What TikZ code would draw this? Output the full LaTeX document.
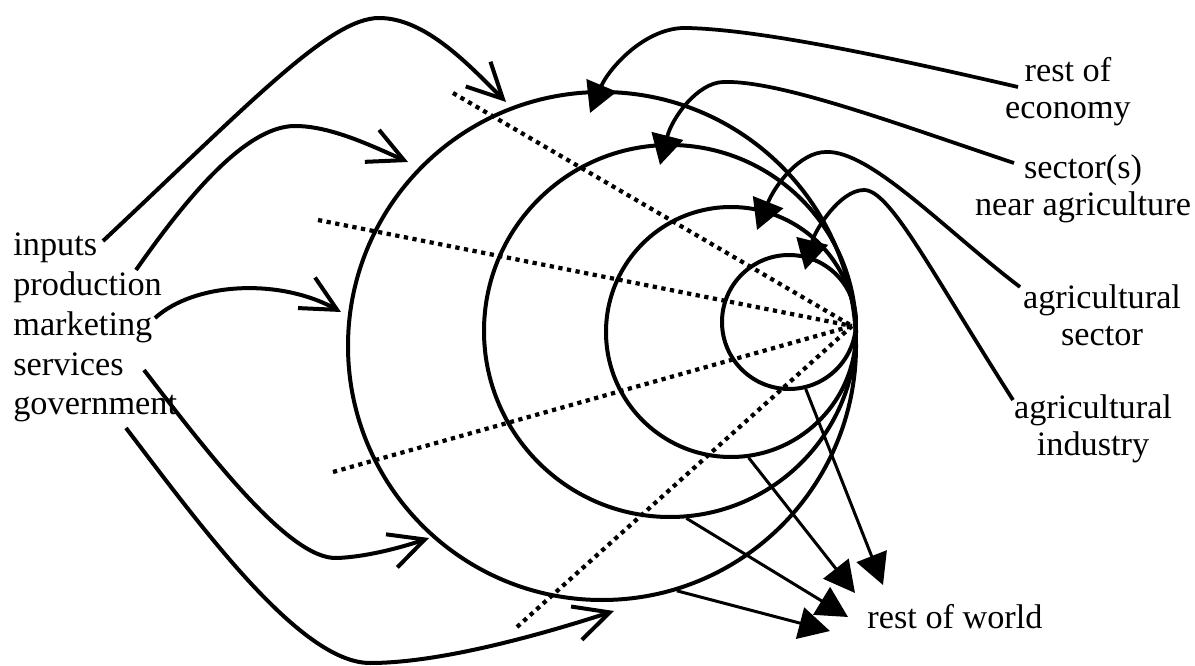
\documentclass[tikz,border=0pt]{standalone}
\usepackage{fontspec}
\setmainfont{Liberation Serif}
\usetikzlibrary{arrows.meta}
\begin{document}
\begin{tikzpicture}[
  ring/.style={draw,circle,line width=0.08cm,inner sep=0pt},
  dotline/.style={line width=0.085cm,dash pattern=on 0.085cm off 0.09cm},
  inarrow/.style={line width=0.08cm,-{Straight Barb[length=0.7cm,width=0.7cm]}},
  outarrow/.style={line width=0.075cm,-{Triangle[length=0.6cm,width=0.64cm]}},
  worldarrow/.style={line width=0.06cm,-{Triangle[length=0.62cm,width=0.64cm]}},
  lbl/.style={inner sep=0pt,align=center,font=\fontsize{19.5}{21}\selectfont}]
\useasboundingbox (0,0) rectangle (23.9,13.3);
\node[ring,minimum size=10.16cm] (econ) at (12.04,6.38) {};
\node[ring,minimum size=7.44cm] (near) at (13.40,6.68) {};
\node[ring,minimum size=5.00cm] (sect) at (14.62,6.66) {};
\node[ring,minimum size=2.68cm] (ind) at (15.78,6.86) {};
\coordinate (hub) at (17.04,6.78);
\foreach \p in {(9.06,11.44),(6.36,8.90),(6.66,3.86),(10.34,0.76)}
  \draw[dotline] \p -- (hub);
\node[lbl,align=left,anchor=west,font=\fontsize{19.5}{22.7}\selectfont] (flows) at (0.26,6.75)
  {inputs\\production\\marketing\\services\\government};
\node[lbl] (lblecon) at (21.36,11.47) {rest of\\economy};
\node[lbl] (lblnear) at (21.66,9.53) {sector(s)\\near agriculture};
\node[lbl] (lblsect) at (22.04,7.00) {agricultural\\sector};
\node[lbl] (lblind) at (21.86,4.72) {agricultural\\industry};
\node[lbl] (world) at (19.10,0.97) {rest of world};
\coordinate (a1) at (2.06,8.48);
\coordinate (a2) at (2.72,7.90);
\coordinate (a3) at (3.10,6.94);
\coordinate (a4) at (2.88,5.90);
\coordinate (a5) at (2.52,4.74);
\coordinate (e1) at (10.12,11.26);
\coordinate (e2) at (8.16,10.06);
\coordinate (e3) at (6.82,7.06);
\coordinate (e4) at (8.58,2.54);
\coordinate (e5) at (12.28,1.08);
\draw[inarrow] (a1) .. controls (5.00,11.24) and (6.60,12.94) .. (7.58,12.94)
  .. controls (8.50,12.94) and (9.36,12.02) .. (e1);
\draw[inarrow] (a2) .. controls (3.70,9.30) and (4.90,10.78) .. (5.90,10.78)
  .. controls (6.60,10.78) and (7.40,10.40) .. (e2);
\draw[inarrow] (a3) .. controls (3.90,7.66) and (5.60,7.74) .. (e3);
\draw[inarrow] (a4) .. controls (4.22,4.16) and (5.80,2.10) .. (6.74,2.14)
  .. controls (7.30,2.16) and (8.00,2.34) .. (e4);
\draw[inarrow] (a5) .. controls (4.00,2.80) and (6.00,0.04) .. (7.40,0.04)
  .. controls (8.80,0.04) and (10.80,0.60) .. (e5);
\coordinate (r1) at (20.36,11.56);
\coordinate (r2) at (20.28,10.04);
\coordinate (r3) at (20.40,7.56);
\coordinate (r4) at (20.26,5.30);
\coordinate (t1) at (11.80,11.04);
\coordinate (t2) at (13.20,10.00);
\coordinate (t3) at (15.14,8.70);
\coordinate (t4) at (16.10,7.90);
\draw[outarrow] (r1) .. controls (17.60,12.20) and (15.20,12.70) .. (13.76,12.74)
  .. controls (12.90,12.78) and (12.16,11.90) .. (t1);
\draw[outarrow] (r2) .. controls (18.00,10.80) and (15.60,11.70) .. (14.46,11.66)
  .. controls (13.94,11.64) and (13.44,10.94) .. (t2);
\draw[outarrow] (r3) .. controls (18.90,8.70) and (17.40,10.30) .. (16.52,10.26)
  .. controls (16.00,10.26) and (15.50,9.60) .. (t3);
\draw[outarrow] (r4) .. controls (18.60,7.90) and (17.80,9.50) .. (17.28,9.50)
  .. controls (16.80,9.50) and (16.30,8.70) .. (t4);
\coordinate (w1) at (17.66,1.60);
\coordinate (w2) at (17.10,1.44);
\coordinate (w3) at (16.96,0.96);
\coordinate (w4) at (16.60,0.68);
\draw[worldarrow] (ind.-76) -- (w1);
\draw[worldarrow] (sect.-82) -- (w2);
\draw[worldarrow] (near.-85) -- (w3);
\draw[worldarrow] (econ.-73) -- (w4);
\end{tikzpicture}
\end{document}
